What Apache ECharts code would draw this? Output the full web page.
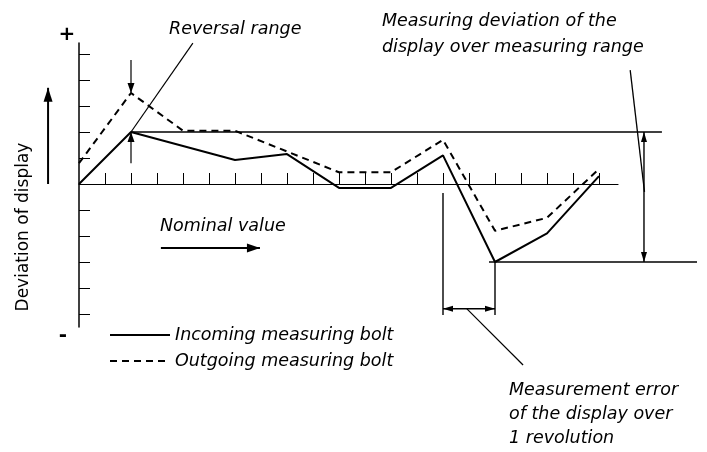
<!DOCTYPE html>
<html>
<head>
<meta charset="utf-8">
<script src="https://cdn.jsdelivr.net/npm/echarts@6/dist/echarts.min.js"></script>
<style>
  html, body { margin: 0; padding: 0; background: #fff; }
  #chart { width: 707px; height: 452px; }
</style>
</head>
<body>
<div id="chart"></div>
<script>
// data (x in ticks, y in tick units, 0 = nominal)
const incomingX = [0, 2, 6, 8, 10, 12, 14, 16, 18, 20]
const incomingY = [0, 2, 0.92, 1.15, -0.15, -0.15, 1.1, -3, -1.9, 0.3]
const outgoingX = [0, 2, 4, 6, 10, 12, 14, 16, 18, 20]
const outgoingY = [0.8, 3.5, 2.05, 2.05, 0.45, 0.45, 1.7, -1.8, -1.3, 0.58]
const xTicks = [1, 2, 3, 4, 5, 6, 7, 8, 9, 10, 11, 12, 13, 14, 15, 16, 17, 18, 19, 20]
const yTicks = [-5, -4, -3, -2, -1, 0, 1, 2, 3, 4, 5]
const seriesNames = ['Incoming measuring bolt', 'Outgoing measuring bolt']

const FONT = '"DejaVu Sans", "Open Sans", sans-serif'
const INK = '#000'
const UNIT = 26 // px per tick, same in both grids

function pairs(xs, ys) {
  return xs.map((x, i) => [x, ys[i]])
}

// helper line on the wide (hidden) grid; heads per point: 'up'|'down'|'left'|'right'|null
const rot = { up: 0, down: 180, left: 90, right: -90 }
function helper(pts, heads, width, size) {
  heads = heads || []
  size = size || [6, 9]
  return {
    type: 'line',
    xAxisIndex: 1,
    yAxisIndex: 1,
    silent: true,
    z: 3,
    symbol: 'triangle',
    lineStyle: { color: INK, width: width || 1.2 },
    itemStyle: { color: INK },
    data: pts.map((p, i) => {
      const h = heads[i]
      if (!h) return { value: p, symbol: 'none' }
      const off = { up: [0, size[1] / 2], down: [0, -size[1] / 2], left: [size[1] / 2, 0], right: [-size[1] / 2, 0] }[h]
      return { value: p, symbol: 'triangle', symbolSize: size, symbolRotate: rot[h], symbolOffset: off }
    })
  }
}

const myChart = echarts.init(document.getElementById('chart'))
const option = {
  backgroundColor: '#ffffff',
  animation: false,
  grid: [
    { left: 79, top: 43, width: 539, height: 284 },
    { left: 40, top: 15, width: 660, height: 364 }
  ],
  legend: {
    data: seriesNames,
    orient: 'vertical',
    left: 104,
    top: 321,
    itemWidth: 60,
    itemHeight: 14,
    itemGap: 8,
    itemStyle: { opacity: 0 },
    textStyle: { fontFamily: FONT, fontStyle: 'italic', fontSize: 17.5, color: INK }
  },
  xAxis: [
    {
      type: 'value',
      gridIndex: 0,
      min: 0,
      max: 539 / UNIT,
      axisLine: { onZero: true, lineStyle: { color: INK, width: 1.2 } },
      axisTick: { inside: true, length: 11, customValues: xTicks, lineStyle: { color: INK, width: 1 } },
      axisLabel: { show: false },
      splitLine: { show: false }
    },
    {
      type: 'value',
      gridIndex: 1,
      show: false,
      min: -39 / UNIT,
      max: (660 - 39) / UNIT
    }
  ],
  yAxis: [
    {
      type: 'value',
      gridIndex: 0,
      min: -5.5,
      max: 284 / UNIT - 5.5,
      axisLine: { show: true, onZero: false, lineStyle: { color: INK, width: 1.5 } },
      axisTick: { show: true, inside: true, length: 11, customValues: yTicks, lineStyle: { color: INK, width: 1 } },
      axisLabel: { show: false },
      splitLine: { show: false }
    },
    {
      type: 'value',
      gridIndex: 1,
      show: false,
      min: -7.5,
      max: 6.5
    }
  ],
  series: [
    {
      name: seriesNames[0],
      type: 'line',
      symbol: 'none',
      z: 5,
      lineStyle: { color: INK, width: 2 },
      itemStyle: { color: INK },
      data: pairs(incomingX, incomingY)
    },
    {
      name: seriesNames[1],
      type: 'line',
      symbol: 'none',
      z: 5,
      lineStyle: { color: INK, width: 2, type: [7, 5] },
      itemStyle: { color: INK },
      data: pairs(outgoingX, outgoingY)
    },
    // reference lines for the deviation range
    helper([[2, 2], [22.42, 2]], null, 1.5),
    helper([[15.77, -3], [23.77, -3]], null, 1.5),
    helper([[21.73, 2], [21.73, -3]], ['up', 'down'], 1.4, [6, 10]),
    helper([[21.2, 4.38], [21.75, -0.3]], null, 1.3),
    // reversal range
    helper([[2, 4.77], [2, 3.5]], [null, 'down'], 1.2, [7, 10]),
    helper([[2, 0.8], [2, 2]], [null, 'up'], 1.2, [7, 10]),
    helper([[2, 2], [4.38, 5.42]], null, 1.2),
    // 1 revolution
    helper([[14, -0.35], [14, -5.04]], null, 1.4),
    helper([[16, -3], [16, -5.04]], null, 1.4),
    helper([[14, -4.8], [16, -4.8]], ['left', 'right'], 1.5, [6, 10]),
    helper([[14.92, -4.8], [17.08, -6.96]], null, 1.2),
    // direction arrows
    helper([[-1.19, 0], [-1.19, 3.7]], [null, 'up'], 2, [9, 14]),
    helper([[3.15, -2.46], [6.96, -2.46]], [null, 'right'], 2, [9, 13])
  ],
  graphic: [
    { type: 'text', x: 67, y: 35, style: { text: '+', font: 'bold 20px ' + FONT, fill: INK, align: 'center', verticalAlign: 'middle' } },
    { type: 'text', x: 63, y: 336, style: { text: '-', font: 'bold 20px ' + FONT, fill: INK, align: 'center', verticalAlign: 'middle' } },
    { type: 'text', x: 24, y: 227, rotation: Math.PI / 2, style: { text: 'Deviation of display', font: '17px ' + FONT, fill: INK, align: 'center', verticalAlign: 'middle' } },
    { type: 'text', x: 169, y: 29, style: { text: 'Reversal range', font: 'italic 17.5px ' + FONT, fill: INK, verticalAlign: 'middle' } },
    { type: 'text', x: 382, y: 8, style: { text: 'Measuring deviation of the\ndisplay over measuring range', font: 'italic 17.5px ' + FONT, lineHeight: 26, fill: INK } },
    { type: 'text', x: 160, y: 226, style: { text: 'Nominal value', font: 'italic 17.5px ' + FONT, fill: INK, verticalAlign: 'middle' } },
    { type: 'text', x: 509, y: 378, style: { text: 'Measurement error\nof the display over\n1 revolution', font: 'italic 17.5px ' + FONT, lineHeight: 24, fill: INK } }
  ]
}
myChart.setOption(option)
window.onresize = myChart.resize
</script>
</body>
</html>
